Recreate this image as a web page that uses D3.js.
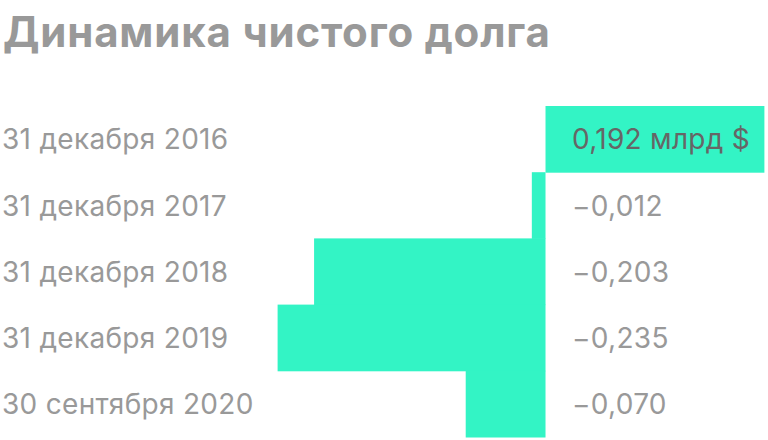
<!DOCTYPE html>
<html><head><meta charset="utf-8">
<script src="https://cdn.jsdelivr.net/npm/d3@7"></script>
<style>body{margin:0;background:#fff}svg{display:block}</style>
</head><body>
<svg id="c" width="768" height="440"></svg>
<script>
const categories = ["31 декабря 2016","31 декабря 2017","31 декабря 2018","31 декабря 2019","30 сентября 2020"];
const values = [0.192, -0.012, -0.203, -0.235, -0.070];
const valueLabels = ["0,192 млрд $","\u22120,012","\u22120,203","\u22120,235","\u22120,070"];
const title = "Динамика чистого долга";

const svg = d3.select("#c");
const font = "Inter, sans-serif";
svg.append("text").attr("x",3).attr("y",47).text(title)
  .attr("font-family",font).attr("font-weight",700).attr("font-size",42)
  .attr("letter-spacing",0.8).attr("fill","#999");

const x = d3.scaleLinear().domain([-0.235, 0.192]).range([277.6, 764.4]);
const y = d3.scaleBand().domain(categories).range([106, 437]).padding(0);

svg.selectAll("rect.bar").data(values).join("rect").attr("class","bar")
  .attr("x",(d)=>x(Math.min(0,d))).attr("width",(d)=>Math.abs(x(d)-x(0)))
  .attr("y",(d,i)=>y(categories[i])).attr("height",y.bandwidth()+0.5)
  .attr("fill","#33F4C5");

svg.selectAll("text.cat").data(categories).join("text").attr("class","cat")
  .attr("x",2).attr("y",d=>y(d)+y.bandwidth()/2).attr("dy","0.37em")
  .text(d=>d).attr("font-family",font).attr("font-size",28)
  .attr("letter-spacing",0.3).attr("fill","#999");

svg.selectAll("text.val").data(valueLabels).join("text").attr("class","val")
  .attr("x",572).attr("y",(d,i)=>y(categories[i])+y.bandwidth()/2).attr("dy","0.37em")
  .text(d=>d).attr("font-family",font).attr("font-size",28)
  .attr("letter-spacing",0.3)
  .attr("fill",(d,i)=>values[i]>0?"#666":"#999");
</script>
</body></html>
